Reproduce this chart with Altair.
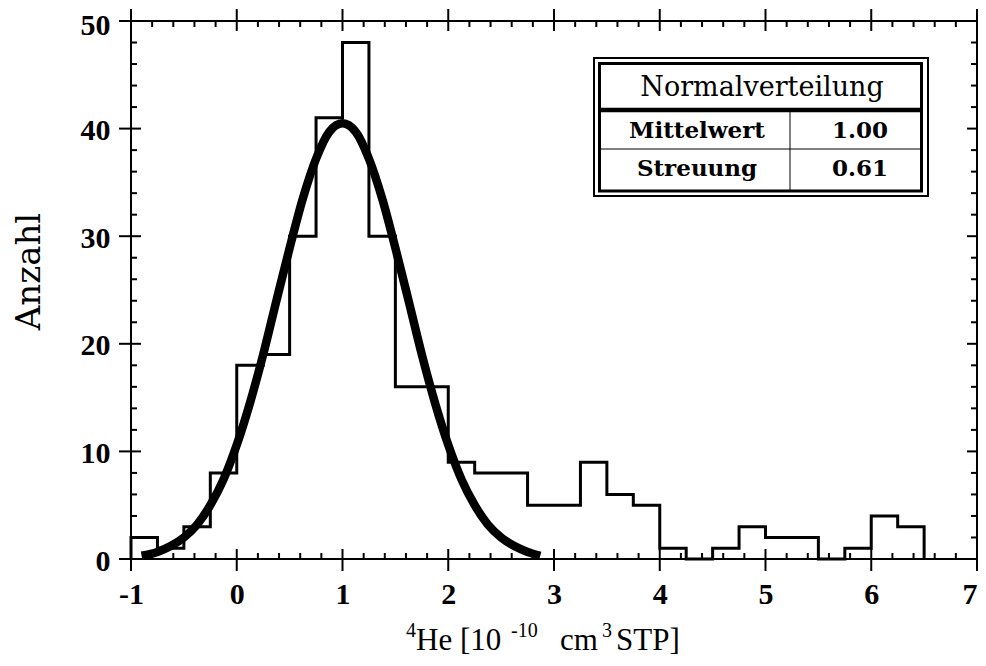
import altair as alt
import pandas as pd

# ---- data ----
bin_edges = [-1 + 0.25 * i for i in range(31)]
bin_counts = [2, 1, 3, 8, 18, 19, 30, 41, 48, 30, 16, 16, 9, 8, 8,
              5, 5, 9, 6, 5, 1, 0, 1, 3, 2, 2, 0, 1, 4, 3]

curve_x = [-0.9, -0.75, -0.625, -0.5, -0.375, -0.25, -0.125, 0.0, 0.125, 0.25,
           0.375, 0.5, 0.625, 0.75, 0.875, 1.0, 1.125, 1.25, 1.375, 1.5,
           1.625, 1.75, 1.875, 2.0, 2.125, 2.25, 2.375, 2.5, 2.625, 2.75, 2.87]
curve_y = [0.3, 0.66, 1.2, 2.0, 3.2, 5.0, 7.4, 10.6, 14.5, 19.0,
           24.0, 28.9, 33.5, 37.2, 39.7, 40.5, 39.7, 37.2, 33.5, 28.9,
           24.0, 19.0, 14.5, 10.6, 7.4, 5.0, 3.2, 2.0, 1.2, 0.66, 0.3]

x_major = [-1, 0, 1, 2, 3, 4, 5, 6, 7]
y_major = [0, 10, 20, 30, 40, 50]
x_minor = [round(-1 + 0.2 * i, 2) for i in range(41) if i % 5 != 0]
y_minor = [2 * i for i in range(26) if i % 5 != 0]

table_title = "Normalverteilung"
table_rows = ["Mittelwert", "Streuung"]
table_vals = ["1.00", "0.61"]

# x-axis title pieces: (text, is_superscript, left position in px)
xtitle_parts = [("4", True, 275), ("He [10", False, 285), ("-10", True, 380),
                ("cm", False, 429), ("3", True, 471), ("STP]", False, 485)]
ytitle = "Anzahl"

W, H = 846, 538

# step outline of the histogram
step_x = [bin_edges[0]] + bin_edges
step_y = [0] + bin_counts + [0]
hist_df = pd.DataFrame({"x": step_x, "y": step_y})
curve_df = pd.DataFrame({"x": curve_x, "y": curve_y})

xs = alt.Scale(domain=[-1, 7], nice=False, zero=False)
ys = alt.Scale(domain=[0, 50], nice=False)

tick_font = "Liberation Serif"
serif = "DejaVu Serif"

x_axis = alt.Axis(values=x_major, labelExpr="'' + datum.value", ticks=False, tickSize=0,
                  domain=False, grid=False, labelFont=tick_font, labelFontWeight="bold",
                  labelFontSize=30, labelPadding=20, labelColor="black", title=None,
                  labelAlign={"condition": {"test": "datum.value >= 7", "value": "right"},
                              "value": "center"},
                  labelFlush=False, labelOverlap=False)
y_axis = alt.Axis(values=y_major, ticks=False, tickSize=0, domain=False, grid=False,
                  labelFont=tick_font, labelFontWeight="bold", labelFontSize=30,
                  labelPadding=21, labelColor="black", labelBaseline="middle",
                  labelOffset={"condition": {"test": "datum.value >= 50", "value": 4},
                               "value": 2},
                  title=ytitle, titleFont=serif, titleFontSize=34,
                  titleFontWeight="normal", titleColor="black", titleAngle=270,
                  titleX=-92, titleY=250, titleBaseline="alphabetic", titleAlign="center",
                  labelFlush=False, labelOverlap=False)

X = alt.X("x:Q", scale=xs, axis=x_axis)
Y = alt.Y("y:Q", scale=ys, axis=y_axis)

hist = alt.Chart(hist_df).mark_line(interpolate="step-after", color="black",
                                     strokeWidth=3, strokeJoin="miter").encode(x=X, y=Y)

curve = alt.Chart(curve_df).mark_line(interpolate="monotone", color="black",
                                       strokeWidth=8.5, strokeCap="butt").encode(x=X, y=Y)


def xticks(vals, y1, y2, sw=2):
    return alt.Chart(pd.DataFrame({"x": vals})).mark_rule(color="black", strokeWidth=sw).encode(
        x=X, y=alt.value(y1), y2=alt.value(y2))


def yticks(vals, x1, x2, sw=2):
    return alt.Chart(pd.DataFrame({"y": vals})).mark_rule(color="black", strokeWidth=sw).encode(
        y=Y, x=alt.value(x1), x2=alt.value(x2))


ticks = [
    xticks(x_major, H - 10, H + 12), xticks(x_major, -12, 10),
    xticks(x_minor, H - 6, H), xticks(x_minor, 0, 6),
    yticks(y_major, -12, 10), yticks(y_major, W - 10, W + 12),
    yticks(y_minor, 0, 6), yticks(y_minor, W - 6, W),
]

# ---- table box ----
one = pd.DataFrame({"a": [0]})


def rect(x1, x2, y1, y2, sw):
    return alt.Chart(one).mark_rect(fill="white", stroke="black", strokeWidth=sw).encode(
        x=alt.value(x1), x2=alt.value(x2), y=alt.value(y1), y2=alt.value(y2))


def hline(x1, x2, y, sw):
    return alt.Chart(one).mark_rule(color="black", strokeWidth=sw).encode(
        x=alt.value(x1), x2=alt.value(x2), y=alt.value(y))


def vline(x, y1, y2, sw):
    return alt.Chart(one).mark_rule(color="black", strokeWidth=sw).encode(
        x=alt.value(x), y=alt.value(y1), y2=alt.value(y2))


def label(txt, x, y, size, weight, font=serif, align="center", baseline="middle"):
    return alt.Chart(one).mark_text(text=txt, font=font, fontSize=size, fontWeight=weight,
                                    color="black", align=align, baseline=baseline).encode(
        x=alt.value(x), y=alt.value(y))


table = [
    rect(463, 797, 37, 175, 2),
    rect(468.5, 790.5, 42.5, 170, 3),
    hline(468.5, 790.5, 89, 4.5),
    hline(468.5, 790.5, 128, 1),
    vline(659, 89, 170, 1),
    label(table_title, 631, 67, 27, "normal"),
    label(table_rows[0], 566, 110, 23, "bold"),
    label(table_vals[0], 729, 110, 23, "bold"),
    label(table_rows[1], 566, 148, 23, "bold"),
    label(table_vals[1], 729, 148, 23, "bold"),
]

xtitle = [
    label(t, px, 616 if sup else 629, 20 if sup else 31, "normal", font=tick_font,
          align="left", baseline="alphabetic")
    for (t, sup, px) in xtitle_parts
]

chart = alt.layer(hist, curve, *ticks, *table, *xtitle).properties(
    width=W, height=H,
    background="white",
    autosize=alt.AutoSizeParams(type="none"),
    padding={"left": 123, "top": 13, "right": 1, "bottom": 99},
).configure_view(stroke="black", strokeWidth=2)

chart.save("out.html", embed_options={"renderer": "svg", "actions": False})
